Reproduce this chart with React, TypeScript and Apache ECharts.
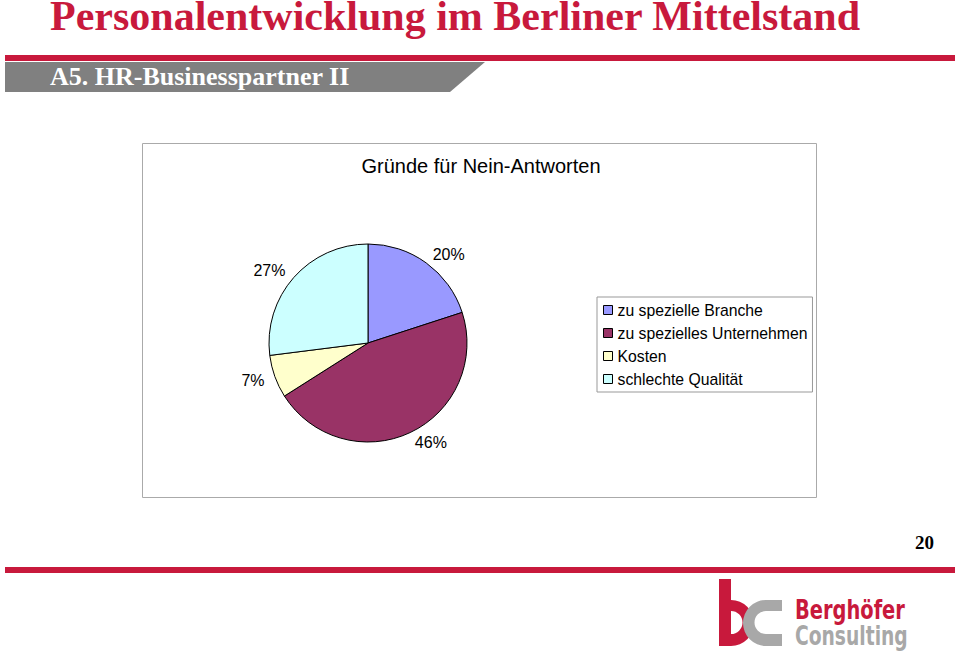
import React, { useEffect, useRef } from "react";
import * as echarts from "echarts";

const pageTitle = "Personalentwicklung im Berliner Mittelstand";
const sectionTitle = "A5. HR-Businesspartner II";
const chartTitle = "Gründe für Nein-Antworten";
const pageNumber = "20";
const categories = [
  "zu spezielle Branche",
  "zu spezielles Unternehmen",
  "Kosten",
  "schlechte Qualität",
];
const values = [20, 46, 7, 27];
const colors = ["#9999FF", "#993366", "#FFFFCC", "#CCFFFF"];
const logoLine1 = "Berghöfer";
const logoLine2 = "Consulting";

const RED = "#C8193C";
const LOGO_GRAY = "#A8A8A8";
const CX = 368;
const CY = 343;
const R = 99;

echarts.graphic.registerShape(
  "logoB",
  echarts.graphic.extendPath(
    "M0 0 H12 V21 A23 23 0 0 1 12 67 H0 Z M12 32 V55 A11.5 11.5 0 0 0 12 32 Z",
    {}
  )
);
echarts.graphic.registerShape(
  "logoC",
  echarts.graphic.extendPath(
    "M63 21 H47 A23 23 0 0 0 47 67 H63 V55 H47 A11.5 11.5 0 0 1 47 32 H63 Z",
    {}
  )
);

export default function App() {
  const ref = useRef<HTMLDivElement>(null);
  useEffect(() => {
    if (!ref.current) return;
    const chart = echarts.init(ref.current, undefined, { renderer: "svg" });
    const total = values.reduce((a, b) => a + b, 0);
    const data = categories.map((name, i) => ({
      name,
      value: values[i],
      itemStyle: { color: colors[i] },
    }));
    const labelLayout = (params: any) => {
      const i = params.dataIndex;
      let cum = 0;
      for (let k = 0; k < i; k++) cum += values[k];
      const theta = (2 * Math.PI * (cum + values[i] / 2)) / total;
      const ux = Math.sin(theta);
      const uy = -Math.cos(theta);
      const w = params.labelRect.width;
      const h = params.labelRect.height * 0.85;
      return {
        x: CX + ux * (R + 11) + Math.sign(ux) * (w / 2),
        y: CY + uy * (R + 4) + uy * (h / 2),
        align: "center",
        verticalAlign: "middle",
      };
    };
    chart.setOption({
      animation: false,
      backgroundColor: "#ffffff",
      legend: {
        orient: "vertical",
        left: 597,
        top: 297,
        padding: [4, 5, 4, 6],
        itemGap: 5,
        itemWidth: 9,
        itemHeight: 9,
        icon: "rect",
        borderColor: "#999999",
        borderWidth: 1,
        data: categories,
        itemStyle: { borderColor: "#000000", borderWidth: 1 },
        textStyle: {
          fontFamily: "Liberation Sans, Arial, sans-serif",
          fontSize: 15.75,
          color: "#000000",
          lineHeight: 18,
        },
        selectedMode: false,
      },
      series: [
        {
          type: "pie",
          center: [CX, CY],
          radius: [0, R],
          startAngle: 90,
          clockwise: true,
          silent: true,
          percentPrecision: 0,
          label: {
            show: true,
            position: "outside",
            formatter: "{d}%",
            fontFamily: "Liberation Sans, Arial, sans-serif",
            fontSize: 16,
            color: "#000000",
          },
          labelLine: { show: false },
          labelLayout,
          itemStyle: { borderColor: "#000000", borderWidth: 1 },
          data,
        },
      ],
      graphic: [
        {
          type: "text",
          x: 50,
          y: 16,
          style: {
            text: pageTitle,
            fontFamily: "Liberation Serif, Times New Roman, serif",
            fontWeight: "bold",
            fontSize: 42,
            lineHeight: 30,
            fill: RED,
            verticalAlign: "middle",
          },
        },
        {
          type: "rect",
          shape: { x: 5, y: 55, width: 950, height: 6 },
          style: { fill: RED },
        },
        {
          type: "polygon",
          shape: {
            points: [
              [5, 62],
              [485, 62],
              [450, 92],
              [5, 92],
            ],
          },
          style: { fill: "#808080" },
        },
        {
          type: "text",
          x: 50,
          y: 76,
          style: {
            text: sectionTitle,
            fontFamily: "Liberation Serif, Times New Roman, serif",
            fontWeight: "bold",
            fontSize: 26,
            lineHeight: 26,
            fill: "#ffffff",
            verticalAlign: "middle",
          },
        },
        {
          type: "rect",
          shape: { x: 142.5, y: 143.5, width: 674, height: 354 },
          style: { fill: "none", stroke: "#AAAAAA", lineWidth: 1 },
        },
        {
          type: "text",
          x: 481,
          y: 166,
          style: {
            text: chartTitle,
            fontFamily: "Liberation Sans, Arial, sans-serif",
            fontSize: 20,
            fill: "#000000",
            align: "center",
            verticalAlign: "middle",
          },
        },
        {
          type: "text",
          x: 934,
          y: 542,
          style: {
            text: pageNumber,
            fontFamily: "Liberation Serif, Times New Roman, serif",
            fontWeight: "bold",
            fontSize: 19,
            fill: "#000000",
            align: "right",
            verticalAlign: "middle",
          },
        },
        {
          type: "rect",
          shape: { x: 5, y: 567, width: 950, height: 6 },
          style: { fill: RED },
        },
        {
          type: "logoB",
          x: 719,
          y: 579,
          style: { fill: RED },
        },
        {
          type: "logoC",
          x: 719,
          y: 579,
          style: { fill: LOGO_GRAY },
        },
        {
          type: "text",
          x: 795,
          y: 610,
          scaleX: 0.8,
          style: {
            text: logoLine1,
            fontFamily: "Liberation Sans Narrow, DejaVu Sans Condensed, sans-serif",
            fontWeight: "bold",
            fontSize: 27,
            lineHeight: 24,
            fill: RED,
            verticalAlign: "middle",
          },
        },
        {
          type: "text",
          x: 795,
          y: 636,
          scaleX: 0.77,
          style: {
            text: logoLine2,
            fontFamily: "Liberation Sans Narrow, DejaVu Sans Condensed, sans-serif",
            fontWeight: "bold",
            fontSize: 27,
            lineHeight: 24,
            fill: LOGO_GRAY,
            verticalAlign: "middle",
          },
        },
      ],
    });
    return () => chart.dispose();
  }, []);
  return (
    <div
      ref={ref}
      style={{ position: "absolute", left: 0, top: 0, width: 959, height: 655 }}
    />
  );
}
